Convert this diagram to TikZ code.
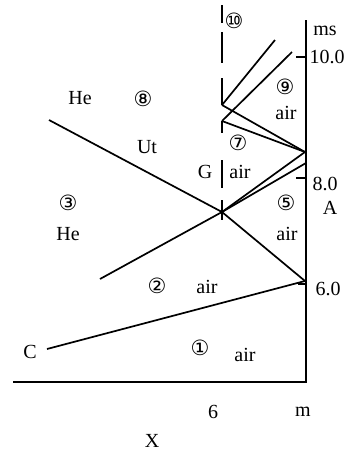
\documentclass[tikz,border=0pt]{standalone}
\usepackage{fontspec}
\setmainfont{Liberation Serif}
\newfontfamily\circfont{DejaVu Sans}
\begin{document}
\begin{tikzpicture}[x=1pt,y=-1pt,
  ln/.style={line width=1.7pt},
  dashseg/.style={line width=2.2pt},
  lbl/.style={inner sep=0pt,font=\fontsize{20}{22}\selectfont},
  num/.style={inner sep=0pt,font=\circfont\fontsize{21}{23}\selectfont}]
\useasboundingbox (0,0) rectangle (351,453);
% key points
\coordinate (B0) at (13,382);
\coordinate (O) at (306,382);
\coordinate (T) at (306,20);
\coordinate (C0) at (47,349);
\coordinate (R6) at (305,281);
\coordinate (X1) at (222,212);
\coordinate (L1) at (49,120);
\coordinate (K0) at (100,279);
\coordinate (W1) at (305,152);
\coordinate (W2) at (306,163);
\coordinate (P1) at (222,105);
\coordinate (P2) at (222,121);
\coordinate (U1) at (275,40);
\coordinate (U2) at (292,52);
% ticks
\coordinate (t10) at (296,57); \coordinate (t10b) at (306,57);
\coordinate (t8) at (296,178); \coordinate (t8b) at (306,178);
\coordinate (t6) at (298,284); \coordinate (t6b) at (306,284);
% axes
\draw[ln] (B0) -- (O) -- (T);
\draw[ln] (t10) -- (t10b);
\draw[ln] (t8) -- (t8b);
\draw[ln] (t6) -- (t6b);
% incident shock
\draw[ln] (C0) -- (R6);
% reflected shock
\draw[ln] (R6) -- (X1) -- (L1);
% contact surface
\draw[ln] (K0) -- (X1) -- (W1);
\draw[ln] (X1) -- (W2);
% reflected waves
\draw[ln] (W1) -- (P1);
\draw[ln] (W1) -- (P2);
\draw[ln] (P1) -- (U1);
\draw[ln] (P2) -- (U2);
% dashed vertical
\foreach \a/\b in {5/23,32/63,78/105,121/133,160/188,200/220}
  \draw[dashseg] (222,\a) -- (222,\b);
% labels
\node[lbl] (ms) at (325,31) {ms};
\node[lbl] (l10) at (327,57) {10.0};
\node[lbl] (l8) at (325,184) {8.0};
\node[lbl] (lA) at (330,208) {A};
\node[lbl] (l6) at (328,289) {6.0};
\node[lbl] (lm) at (303,412) {m};
\node[lbl] (lsix) at (213,412) {6};
\node[lbl] (lX) at (152,441) {X};
\node[lbl] (lC) at (30,352) {C};
\node[lbl] (lG) at (205,172) {G};
\node[lbl] (He1) at (80,98) {He};
\node[lbl] (Ut) at (147,147) {Ut};
\node[lbl] (He2) at (68,234) {He};
\node[lbl] (a9) at (286,113) {air};
\node[lbl] (a7) at (240,172) {air};
\node[lbl] (a5) at (287,234) {air};
\node[lbl] (a2) at (207,287) {air};
\node[lbl] (a1) at (245,355) {air};
\node[num] (n10) at (234,21) {⑩};
\node[num] (n9) at (285,87) {⑨};
\node[num] (n8) at (143,99) {⑧};
\node[num] (n7) at (238,143) {⑦};
\node[num] (n5) at (286,203) {⑤};
\node[num] (n3) at (68,203) {③};
\node[num] (n2) at (157,286) {②};
\node[num] (n1) at (200,348) {①};
\end{tikzpicture}
\end{document}
